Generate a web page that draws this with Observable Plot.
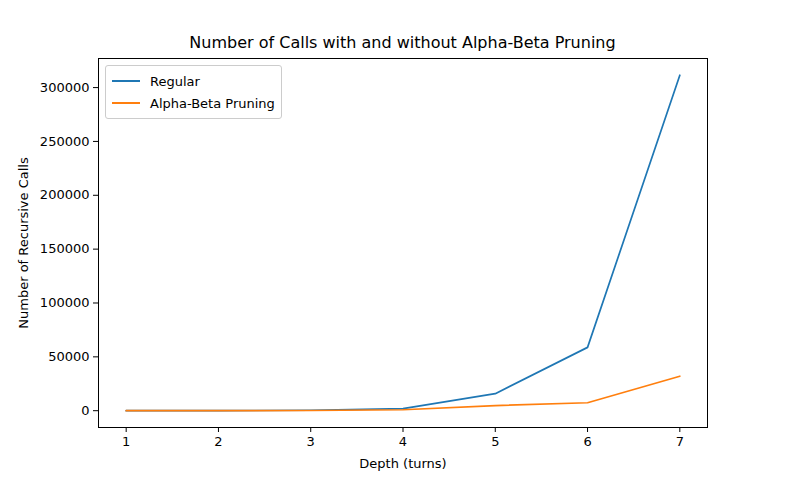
<!DOCTYPE html>
<html><head><meta charset="utf-8">
<script src="https://cdn.jsdelivr.net/npm/d3@7"></script>
<script src="https://cdn.jsdelivr.net/npm/@observablehq/plot@0.6"></script>
<style>
body{margin:0;background:#fff;font-family:"DejaVu Sans",sans-serif}
#wrap{position:relative;width:785px;height:480px}
#title{position:absolute;top:33px;left:98px;width:609px;text-align:center;font-size:16px;color:#000}
#legend{position:absolute;left:105px;top:65px;border:1px solid #ccc;border-radius:3px;padding:4px 6px;font-size:13px;background:#fff}
#legend div{display:flex;align-items:center;height:22px}
#legend span.sw{display:inline-block;width:28px;height:2px;margin-right:10px}
</style></head>
<body><div id="wrap"><div id="chart"></div><div id="title">Number of Calls with and without Alpha-Beta Pruning</div><div id="legend"></div></div>
<script>
const depths = [1, 2, 3, 4, 5, 6, 7]
const regular = [7, 56, 400, 2000, 15800, 58800, 311500]
const alphaBeta = [7, 40, 200, 900, 4800, 7400, 32000]
const series = ["Regular", "Alpha-Beta Pruning"]
const colors = ["#1f77b4", "#ff7f0e"]

const data = [
  ...depths.map((d, i) => ({depth: d, calls: regular[i], s: series[0]})),
  ...depths.map((d, i) => ({depth: d, calls: alphaBeta[i], s: series[1]}))
]

const chart = Plot.plot({
  width: 785, height: 480,
  marginLeft: 98, marginRight: 78, marginTop: 58, marginBottom: 53,
  style: {fontFamily: "DejaVu Sans", fontSize: 13, color: "#000", background: "#fff"},
  x: {domain: [0.7, 7.3], ticks: depths, tickFormat: d => d, label: null, tickSize: 5},
  y: {domain: [-15600, 327000], ticks: [0, 50000, 100000, 150000, 200000, 250000, 300000], tickFormat: d => String(d), label: null, tickSize: 5},
  color: {domain: series, range: colors},
  marks: [
    Plot.frame({stroke: "#000"}),
    Plot.axisX({ticks: depths, tickFormat: d => d, tickSize: 5, fontSize: 13, label: "Depth (turns)", labelAnchor: "center", labelOffset: 40, labelArrow: "none"}),
    Plot.axisY({ticks: [0, 50000, 100000, 150000, 200000, 250000, 300000], tickFormat: d => String(d), tickSize: 5, fontSize: 13, label: "Number of Recursive Calls", labelAnchor: "center", labelOffset: 80, labelArrow: "none"}),
    Plot.line(data, {x: "depth", y: "calls", stroke: "s", strokeWidth: 1.7})
  ]
})
d3.select("#chart").append(() => chart)

const lg = d3.select("#legend")
series.forEach((s, i) => {
  const row = lg.append("div")
  row.append("span").attr("class", "sw").style("background", colors[i])
  row.append("span").text(s)
})
</script></body></html>
